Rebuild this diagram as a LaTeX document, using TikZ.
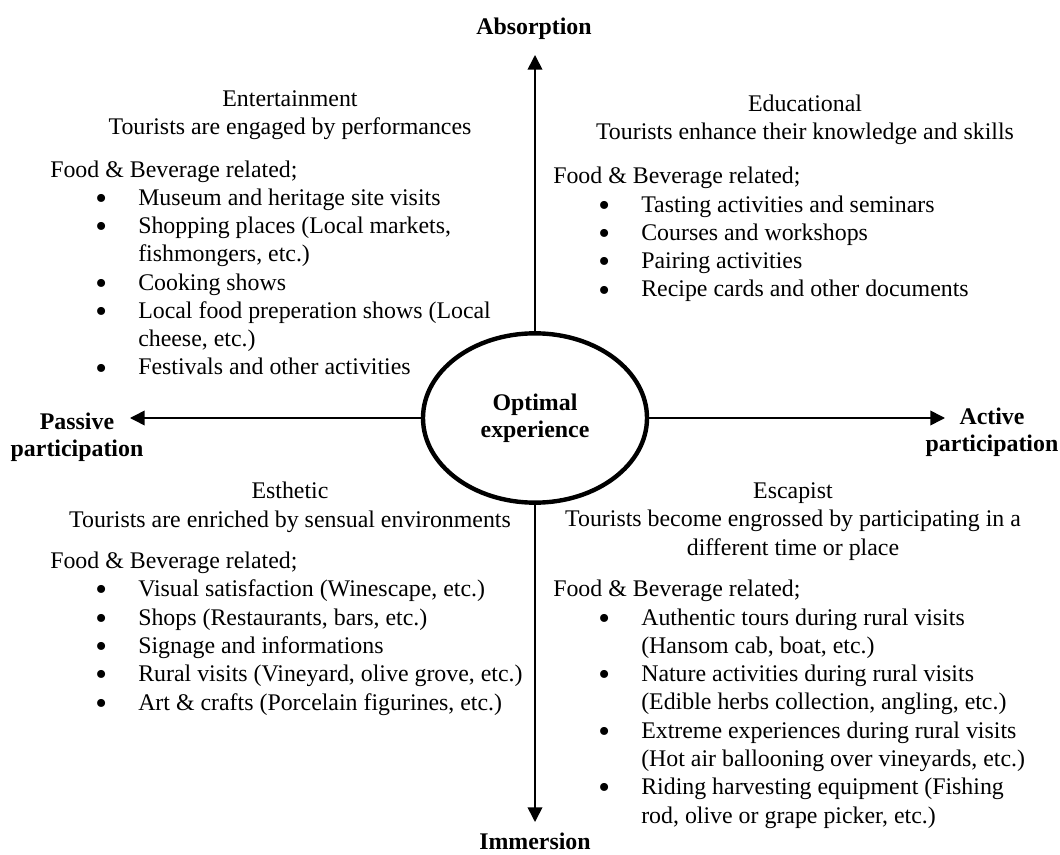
\documentclass[tikz,border=0pt]{standalone}
\usepackage{fontspec}
\setmainfont{Liberation Serif}
\usetikzlibrary{arrows.meta,shapes.geometric}
\newcommand{\itembul}{\hspace*{38.25pt}\makebox[0pt]{\smash{\raisebox{-0.17em}{\scalebox{1.4}{\textbullet}}}}\hspace*{27.75pt}}
\newcommand{\itemcont}{\hspace*{66pt}}
\tikzset{
  axis/.style={line width=1.2pt,-{Triangle[length=11pt,width=11pt]}},
  axislabel/.style={font=\fontsize{17.9pt}{20pt}\selectfont\bfseries,align=center,inner sep=0pt,anchor=base},
  qtitle/.style={align=center,inner sep=0pt,anchor=base},
  qlist/.style={align=left,inner sep=0pt,anchor=base west}
}
\begin{document}
\begin{tikzpicture}[x=0.75pt,y=-0.75pt,every node/.style={font=\fontsize{17.9pt}{21.2pt}\selectfont}]
  \useasboundingbox (0,0) rectangle (1060,855);
  \node[draw,ellipse,line width=3.3pt,minimum width=168pt,minimum height=127pt,
        font=\fontsize{17.9pt}{20pt}\selectfont\bfseries,align=center,inner sep=0pt] (opt) at (535,418) {Optimal\\experience};
  \coordinate (top) at (535,55);
  \coordinate (bot) at (535,822);
  \coordinate (lft) at (130,418);
  \coordinate (rgt) at (945,418);
  \node[axislabel] (absorp) at (534,35) {Absorption};
  \node[axislabel] (immers) at (535,849) {Immersion};
  \node[axislabel] (passive) at (77,456) {Passive\\participation};
  \node[axislabel] (active) at (992,451) {Active\\participation};
  \node[qtitle] (enttitle) at (290,135) {Entertainment\\Tourists are engaged by performances};
  \node[qlist] (entlist) at (50,375) {Food \& Beverage related;\\
    \itembul Museum and heritage site visits\\
    \itembul Shopping places (Local markets,\\
    \itemcont fishmongers, etc.)\\
    \itembul Cooking shows\\
    \itembul Local food preperation shows (Local\\
    \itemcont cheese, etc.)\\
    \itembul Festivals and other activities};
  \node[qtitle] (edutitle) at (805,140) {Educational\\Tourists enhance their knowledge and skills};
  \node[qlist] (edulist) at (553,297) {Food \& Beverage related;\\
    \itembul Tasting activities and seminars\\
    \itembul Courses and workshops\\
    \itembul Pairing activities\\
    \itembul Recipe cards and other documents};
  \node[qtitle] (esttitle) at (290,527) {Esthetic\\Tourists are enriched by sensual environments};
  \node[qlist] (estlist) at (50,710) {Food \& Beverage related;\\
    \itembul Visual satisfaction (Winescape, etc.)\\
    \itembul Shops (Restaurants, bars, etc.)\\
    \itembul Signage and informations\\
    \itembul Rural visits (Vineyard, olive grove, etc.)\\
    \itembul Art \& crafts (Porcelain figurines, etc.)};
  \node[qtitle] (esctitle) at (793,555) {Escapist\\Tourists become engrossed by participating in a\\different time or place};
  \node[qlist] (esclist) at (553,823) {Food \& Beverage related;\\
    \itembul Authentic tours during rural visits\\
    \itemcont (Hansom cab, boat, etc.)\\
    \itembul Nature activities during rural visits\\
    \itemcont (Edible herbs collection, angling, etc.)\\
    \itembul Extreme experiences during rural visits\\
    \itemcont (Hot air ballooning over vineyards, etc.)\\
    \itembul Riding harvesting equipment (Fishing\\
    \itemcont rod, olive or grape picker, etc.)};
  \begin{scope}[axis]
    \draw (opt.north) -- (top);
    \draw (opt.south) -- (bot);
    \draw (opt.west) -- (lft);
    \draw (opt.east) -- (rgt);
  \end{scope}
\end{tikzpicture}
\end{document}
